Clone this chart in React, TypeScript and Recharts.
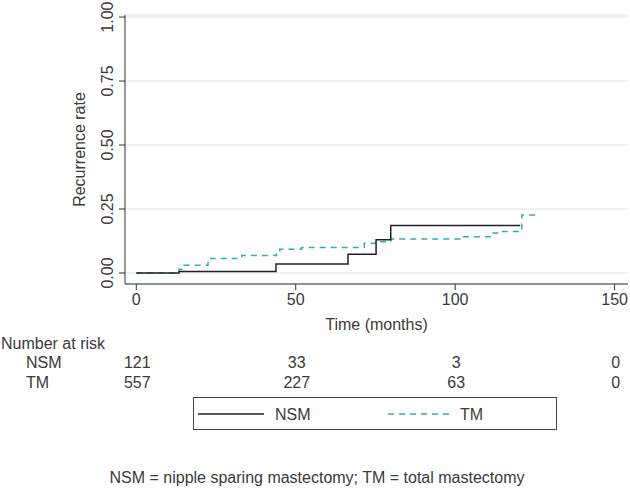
import { LineChart, Line, XAxis, YAxis, CartesianGrid } from 'recharts';

// step points (months, cumulative recurrence)
const nsmTime = [0, 13.4, 43.8, 66.4, 75.2, 79.8, 120.4];
const nsmRate = [0, 0.006, 0.035, 0.073, 0.13, 0.186, 0.186];

const tmTime = [0, 13.4, 15, 22.5, 33.1, 44, 45, 51.8, 71.5, 75, 79.8, 101.5, 111.5, 114.6, 120.9, 125.6];
const tmRate = [0, 0.015, 0.03, 0.057, 0.068, 0.081, 0.093, 0.1, 0.116, 0.122, 0.133, 0.142, 0.156, 0.162, 0.227, 0.227];

const xTicks = [0, 50, 100, 150];
const yTicks = [0, 0.25, 0.5, 0.75, 1];

const riskTimes = [0, 50, 100, 150];
const nsmRisk = [121, 33, 3, 0];
const tmRisk = [557, 227, 63, 0];

const nsmData = nsmTime.map((t, i) => ({ t, v: nsmRate[i] }));
const tmData = tmTime.map((t, i) => ({ t, v: tmRate[i] }));

const FONT = '"Liberation Sans", Arial, sans-serif';
const TEXT = '#3a3a3a';
const TEAL = '#2fb3a6';

const X_DOMAIN: [number, number] = [-3.54, 154.2];
const PLOT_LEFT = 125;
const PLOT_RIGHT = 628;
const xPos = (t: number) =>
  PLOT_LEFT + ((t - X_DOMAIN[0]) / (X_DOMAIN[1] - X_DOMAIN[0])) * (PLOT_RIGHT - PLOT_LEFT);

function YTick(props: any) {
  const { x, y, payload } = props;
  const bx = x - 4;
  return (
    <text
      x={bx}
      y={y}
      transform={`rotate(-90, ${bx}, ${y})`}
      textAnchor="middle"
      fontSize={16}
      fontFamily={FONT}
      fill={TEXT}
    >
      {payload.value.toFixed(2)}
    </text>
  );
}

export default function App() {
  return (
    <div style={{ position: 'absolute', left: 0, top: 0, width: 630, height: 488, background: '#fff' }}>
      <LineChart
        width={630}
        height={488}
        margin={{ top: 15, right: 2, left: 0, bottom: 168 }}
      >
        <CartesianGrid vertical={false} stroke="#e2e2e2" />
        <XAxis
          dataKey="t"
          type="number"
          domain={X_DOMAIN}
          ticks={xTicks}
          height={36}
          tickSize={6}
          tickMargin={4}
          stroke="#333"
          tick={{ fontSize: 16, fontFamily: FONT, fill: TEXT }}
          label={{
            content: (p: any) => {
              const vb = p.viewBox;
              return (
                <text
                  x={vb.x + vb.width / 2}
                  y={330}
                  textAnchor="middle"
                  fontSize={16}
                  fontFamily={FONT}
                  fill={TEXT}
                >
                  Time (months)
                </text>
              );
            },
          }}
        />
        <YAxis
          type="number"
          domain={[-0.043, 1.008]}
          ticks={yTicks}
          width={125}
          tickSize={6}
          stroke="#333"
          tick={<YTick />}
          label={{
            content: (p: any) => {
              const vb = p.viewBox;
              const cy = vb.y + vb.height / 2;
              return (
                <text
                  x={85}
                  y={cy}
                  transform={`rotate(-90, 85, ${cy})`}
                  textAnchor="middle"
                  fontSize={16}
                  fontFamily={FONT}
                  fill={TEXT}
                >
                  Recurrence rate
                </text>
              );
            },
          }}
        />
        <Line
          data={tmData}
          dataKey="v"
          name="TM"
          type="stepAfter"
          stroke={TEAL}
          strokeWidth={1.5}
          strokeDasharray="6 5"
          dot={false}
          activeDot={false}
          isAnimationActive={false}
        />
        <Line
          data={nsmData}
          dataKey="v"
          name="NSM"
          type="stepAfter"
          stroke="#222"
          strokeWidth={1.5}
          dot={false}
          activeDot={false}
          isAnimationActive={false}
        />
      </LineChart>

      <svg
        width={630}
        height={488}
        style={{ position: 'absolute', left: 0, top: 0, pointerEvents: 'none' }}
        fontFamily={FONT}
        fontSize={16}
        fill={TEXT}
      >
        <text x={1} y={349}>Number at risk</text>
        <text x={26} y={368}>NSM</text>
        <text x={26} y={388}>TM</text>
        {riskTimes.map((t, i) => (
          <text key={'n' + t} x={xPos(t) + 1} y={368} textAnchor="middle">{nsmRisk[i]}</text>
        ))}
        {riskTimes.map((t, i) => (
          <text key={'t' + t} x={xPos(t) + 1} y={388} textAnchor="middle">{tmRisk[i]}</text>
        ))}

        <rect x={193.5} y={397.5} width={363} height={32} fill="none" stroke="#444" strokeWidth={1} />
        <line x1={198} x2={264} y1={414} y2={414} stroke="#222" strokeWidth={1.5} />
        <text x={275} y={420}>NSM</text>
        <line x1={388} x2={450} y1={414} y2={414} stroke={TEAL} strokeWidth={1.5} strokeDasharray="6 5" />
        <text x={460} y={420}>TM</text>

        <text x={317} y={483} textAnchor="middle">
          NSM = nipple sparing mastectomy; TM = total mastectomy
        </text>
      </svg>
    </div>
  );
}
